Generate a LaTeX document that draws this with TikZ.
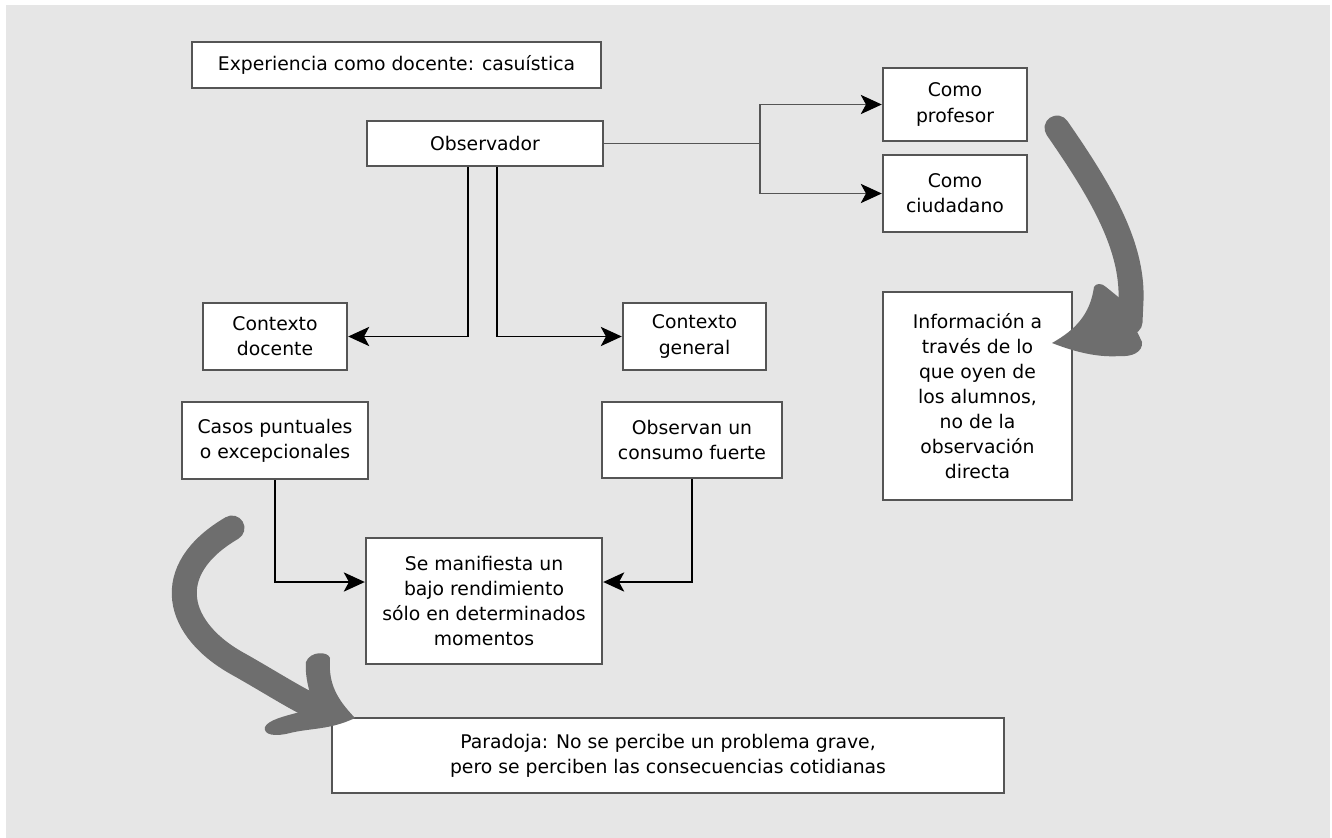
\documentclass[tikz,border=0pt]{standalone}
\usepackage{fontspec}
\setmainfont{DejaVu Sans}
\usetikzlibrary{arrows.meta}

\definecolor{fondo}{HTML}{E6E6E6}
\definecolor{borde}{HTML}{555555}
\definecolor{flecha}{HTML}{6E6E6E}

\tikzset{
  caja/.style={draw=borde, line width=1.4pt, fill=white, align=center, inner sep=2pt,
    font=\fontsize{10.7}{14.3}\selectfont},
  conector/.style={line width=0.7pt, -{Stealth[length=12pt,width=11pt,inset=3pt,color=black]}},
  gruesa/.style={draw=flecha, line width=0.5cm},
}

\begin{document}
\begin{tikzpicture}[x=0.02cm,y=-0.02cm]
	\useasboundingbox (0,0) rectangle (1332,838);
	\fill[fondo] (6,5) rectangle (1330,838);

	% cajas
	\node[caja, minimum width=8.18cm, minimum height=0.92cm] (exp) at (396.5,65) {Experiencia como docente: casuística};
	\node[caja, minimum width=4.72cm, minimum height=0.9cm] (obs) at (485,143.5) {Observador};
	\node[caja, minimum width=2.88cm, minimum height=1.46cm] (prof) at (955,104.5) {Como\\profesor};
	\node[caja, minimum width=2.88cm, minimum height=1.54cm] (ciud) at (955,193.5) {Como\\ciudadano};
	\node[caja, minimum width=2.88cm, minimum height=1.34cm] (ctxd) at (275,336.5) {Contexto\\docente};
	\node[caja, minimum width=2.86cm, minimum height=1.34cm] (ctxg) at (694.5,336.5) {Contexto\\general};
	\node[caja, minimum width=3.72cm, minimum height=1.54cm] (casos) at (275,440.5) {Casos puntuales\\o excepcionales};
	\node[caja, minimum width=3.6cm, minimum height=1.52cm] (consumo) at (692,440) {Observan un\\consumo fuerte};
	\node[caja, minimum width=4.72cm, minimum height=2.52cm] (manif) at (484,601) {Se manifiesta un\\bajo rendimiento\\sólo en determinados\\momentos};
	\node[caja, minimum width=3.78cm, minimum height=4.16cm] (info) at (977.5,396) {Información a\\través de lo\\que oyen de\\los alumnos,\\no de la\\observación\\directa};
	\node[caja, minimum width=13.44cm, minimum height=1.5cm] (parad) at (668,755.5) {Paradoja: No se percibe un problema grave,\\pero se perciben las consecuencias cotidianas};

	% conectores
	\coordinate (rama) at (760,143.5);
	\draw[borde, line width=0.7pt] (obs.east) -- (rama);
	\draw[conector, borde] (rama) |- (prof.west);
	\draw[conector, borde] (rama) |- (ciud.west);
	\draw[conector] ([xshift=-0.34cm]obs.south) |- (ctxd.east);
	\draw[conector] ([xshift=0.24cm]obs.south) |- (ctxg.west);
	\draw[conector] (casos.south) |- ([yshift=0.38cm]manif.west);
	\draw[conector] (consumo.south) |- ([yshift=0.38cm]manif.east);

	% flecha gruesa derecha
	\draw[gruesa, line cap=round] (1057,128) .. controls (1100,190) and (1133,245) .. (1131,300) -- (1130,322);
	\fill[flecha] (1052,343) .. controls (1075,330) and (1090,315) .. (1094,287)
		.. controls (1096,283) and (1102,283) .. (1106,287) -- (1122,300) -- (1142,342)
		.. controls (1143,352) and (1132,357) .. (1120,356)
		.. controls (1095,358) and (1070,350) .. cycle;

	% flecha gruesa izquierda
	\draw[gruesa, line cap=round] (232,528) .. controls (160,570) and (175,630) .. (240,665) .. controls (270,682) and (290,695) .. (312,706);
	\fill[flecha] (355,718) .. controls (338,700) and (328,685) .. (330,658)
		.. controls (328,651) and (310,651) .. (306,662)
		.. controls (305,675) and (308,685) .. (310,694) -- (300,712)
		.. controls (285,716) and (268,720) .. (265,727)
		.. controls (263,735) and (275,737) .. (290,733)
		.. controls (310,728) and (330,730) .. cycle;
\end{tikzpicture}
\end{document}
